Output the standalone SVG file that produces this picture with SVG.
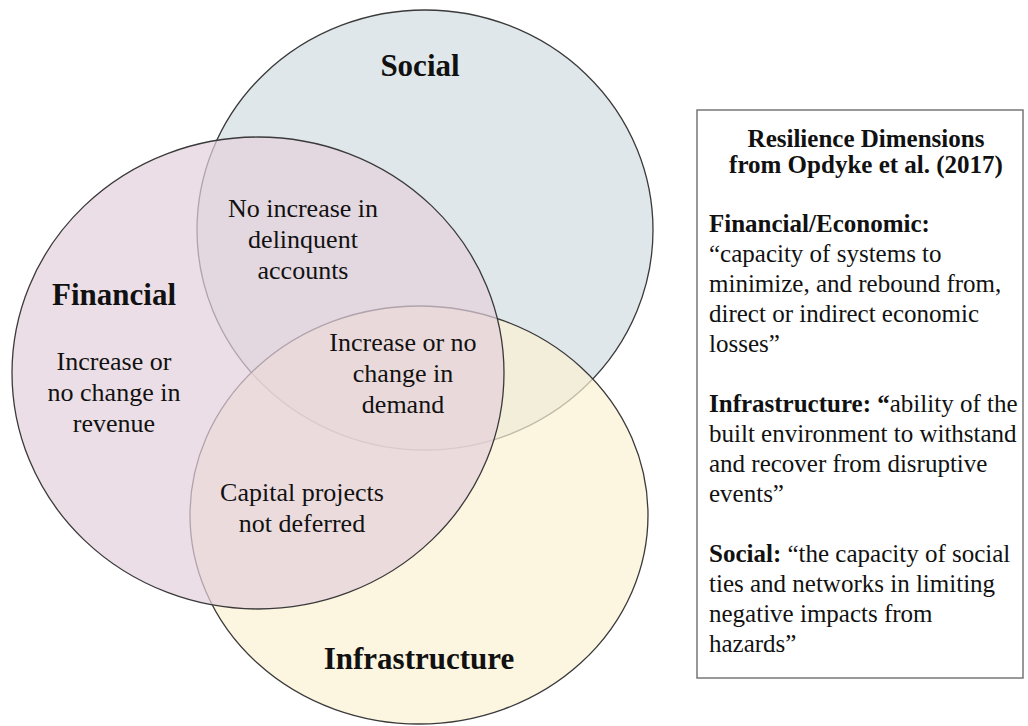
<svg xmlns="http://www.w3.org/2000/svg" width="1028" height="726" viewBox="0 0 1028 726">
  <style>
    .set { stroke: #3a3a3a; stroke-width: 1.3; fill-opacity: 0.7; }
    .lbl { font-family: "Liberation Serif", "Times New Roman", serif; font-weight: bold; font-size: 31px; fill: #111; text-anchor: middle; }
    .txt { font-family: "Liberation Serif", "Times New Roman", serif; font-size: 26px; fill: #111; text-anchor: middle; }
    .box { fill: #ffffff; stroke: #777777; stroke-width: 1.5; }
    .body { font-family: "Liberation Serif", "Times New Roman", serif; font-size: 25px; fill: #111; }
    .b { font-weight: bold; }
  </style>

  <rect width="1028" height="726" fill="#ffffff"/>

  <!-- Venn sets: later sets partly cover the outlines of earlier ones -->
  <g id="social">
    <ellipse class="set" cx="425" cy="230" rx="228" ry="220" fill="#d1dde1"/>
  </g>
  <g id="infrastructure">
    <ellipse class="set" cx="419" cy="515" rx="229" ry="209" fill="#fbf1d1"/>
  </g>
  <g id="financial">
    <ellipse class="set" cx="258" cy="373" rx="246" ry="236" fill="#e4d0dc"/>
  </g>

  <g id="connectors"></g>

  <!-- Set labels -->
  <g id="set-labels">
    <text class="lbl" x="420" y="76">Social</text>
    <text class="lbl" x="114" y="305">Financial</text>
    <text class="lbl" x="419" y="669">Infrastructure</text>
  </g>

  <!-- Region texts -->
  <g id="region-financial">
    <text class="txt" x="114" y="370">Increase or</text>
    <text class="txt" x="114" y="401">no change in</text>
    <text class="txt" x="114" y="432">revenue</text>
  </g>
  <g id="region-financial-social">
    <text class="txt" x="303" y="217">No increase in</text>
    <text class="txt" x="303" y="248">delinquent</text>
    <text class="txt" x="303" y="279">accounts</text>
  </g>
  <g id="region-all">
    <text class="txt" x="403" y="351">Increase or no</text>
    <text class="txt" x="403" y="382">change in</text>
    <text class="txt" x="403" y="413">demand</text>
  </g>
  <g id="region-financial-infrastructure">
    <text class="txt" x="302" y="501">Capital projects</text>
    <text class="txt" x="302" y="532">not deferred</text>
  </g>

  <!-- Legend box -->
  <g id="legend">
    <rect class="box" x="697" y="110" width="326" height="568"/>
    <text class="body b" x="866" y="147" text-anchor="middle">Resilience Dimensions</text>
    <text class="body b" x="866" y="173" text-anchor="middle" font-size="20">from Opdyke et al. (2017)</text>

    <text class="body" x="709" y="232"><tspan class="b">Financial/Economic:</tspan></text>
    <text class="body" x="709" y="262">“capacity of systems to</text>
    <text class="body" x="709" y="292">minimize, and rebound from,</text>
    <text class="body" x="709" y="322">direct or indirect economic</text>
    <text class="body" x="709" y="352">losses”</text>

    <text class="body" x="709" y="412"><tspan class="b">Infrastructure: “</tspan>ability of the</text>
    <text class="body" x="709" y="442">built environment to withstand</text>
    <text class="body" x="709" y="472">and recover from disruptive</text>
    <text class="body" x="709" y="502">events”</text>

    <text class="body" x="709" y="562"><tspan class="b">Social:</tspan> “the capacity of social</text>
    <text class="body" x="709" y="592">ties and networks in limiting</text>
    <text class="body" x="709" y="622">negative impacts from</text>
    <text class="body" x="709" y="652">hazards”</text>
  </g>
</svg>
